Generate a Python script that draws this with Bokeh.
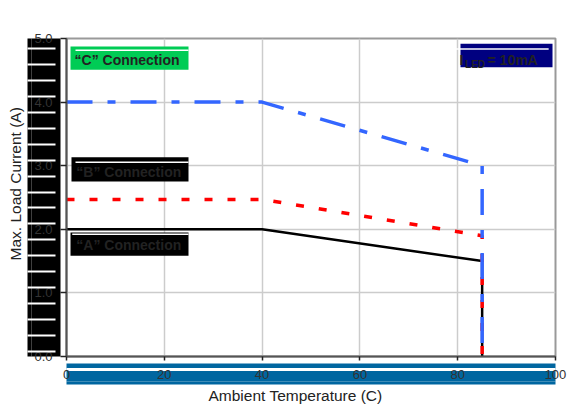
from bokeh.plotting import figure
from bokeh.models import (BoxAnnotation, Label, FixedTicker, PrintfTickFormatter, Range1d,
                          LinearAxis, Title, CustomJSTickFormatter)
from bokeh.embed import file_html
from bokeh.resources import INLINE

# ---------------- data ----------------
temp_a = [0, 40, 85, 85]
curr_a = [2.0, 2.0, 1.5, 0.0]
temp_b = [0, 40, 85, 85]
curr_b = [2.47, 2.47, 1.9, 0.0]
temp_c = [0, 40, 85, 85]
curr_c = [4.0, 4.0, 3.0, 0.0]

x_ticks = [0, 20, 40, 60, 80, 100]
y_ticks = [0, 1, 2, 3, 4, 5]
y_stripes = [0.0, 0.25, 0.5, 0.75, 1.0, 1.25, 1.5, 1.75, 2.0, 2.25, 2.5,
             2.75, 3.0, 3.25, 3.5, 3.75, 4.0, 4.25, 4.5, 4.75]

x_title = "Ambient Temperature (C)"
y_title = "Max. Load Current (A)"
label_c = "\u201cC\u201d Connection"
label_b = "\u201cB\u201d Connection"
label_a = "\u201cA\u201d Connection"

FONT = "Liberation Sans"
BAND = "#0066A0"
STRIPE_SHIFT = 0.085

p = figure(width=567, height=409, x_range=Range1d(0, 100), y_range=Range1d(0, 5),
           output_backend="svg", toolbar_location=None,
           min_border_left=66, min_border_right=12, min_border_top=38, min_border_bottom=53)

p.background_fill_color = "white"
p.border_fill_color = "white"
p.outline_line_color = "#999999"
p.outline_line_width = 2
p.grid.grid_line_color = "#cccccc"
p.grid.grid_line_width = 1.5


def set_bg(ax, color):
    try:
        ax.background_fill_color = color
        ax.background_fill_alpha = 1.0
    except AttributeError:
        pass


def blank():
    return CustomJSTickFormatter(code="return ''")


def style_labels(ax):
    ax.major_label_text_font = FONT
    ax.major_label_text_font_size = "13px"
    ax.major_label_text_color = "#333333"


def spacer(size, color=None):
    ax = LinearAxis(ticker=FixedTicker(ticks=[50]), formatter=blank(), axis_line_color=None,
                    major_tick_line_color=None, minor_tick_line_color=None,
                    major_tick_out=size, major_tick_in=0, major_label_standoff=0)
    if color is not None:
        set_bg(ax, color)
    return ax


# ---- y axes (frame outward) ----
y1 = p.yaxis[0]
y1.ticker = FixedTicker(ticks=y_ticks)
y1.formatter = blank()
y1.axis_line_color = "#555555"
y1.axis_line_width = 2
y1.major_tick_out = 6
y1.major_tick_in = 0
y1.major_tick_line_color = "#222222"
y1.major_tick_line_width = 1.5
y1.minor_tick_line_color = None
y1.major_label_standoff = 0

y2 = LinearAxis(ticker=FixedTicker(ticks=y_ticks),
                formatter=PrintfTickFormatter(format="%.1f"),
                axis_line_color=None, major_tick_line_color=None,
                minor_tick_line_color=None,
                major_tick_out=0, major_tick_in=0, major_label_standoff=8)
style_labels(y2)
set_bg(y2, "black")
p.add_layout(y2, "left")

stripe_ticks = [v + STRIPE_SHIFT for v in y_stripes]
y3 = LinearAxis(ticker=FixedTicker(ticks=[], minor_ticks=stripe_ticks),
                formatter=blank(), axis_line_color=None, major_tick_line_color=None,
                major_tick_out=0, major_tick_in=0, major_label_standoff=0,
                minor_tick_line_color="white", minor_tick_line_width=2,
                minor_tick_out=4, minor_tick_in=24)
set_bg(y3, "black")
p.add_layout(y3, "left")

p.add_layout(Title(text=y_title, align="left", offset=96, standoff=8,
                   text_font=FONT, text_font_size="15.5px", text_font_style="normal",
                   text_color="#222222"), "left")

# ---- x axes (frame outward) ----
x1 = p.xaxis[0]
x1.ticker = FixedTicker(ticks=x_ticks)
x1.formatter = blank()
x1.axis_line_color = "#555555"
x1.axis_line_width = 2
x1.major_tick_out = 4
x1.major_tick_in = 0
x1.major_tick_line_color = "#222222"
x1.major_tick_line_width = 1.5
x1.minor_tick_line_color = None
x1.major_label_standoff = 0

p.add_layout(spacer(3), "below")
p.add_layout(spacer(6, BAND), "below")

x3 = LinearAxis(ticker=FixedTicker(ticks=x_ticks), axis_line_color="white", axis_line_width=3,
                major_tick_line_color=None, minor_tick_line_color=None,
                major_tick_out=0, major_tick_in=0, major_label_standoff=0)
style_labels(x3)
set_bg(x3, BAND)
p.add_layout(x3, "below")

p.add_layout(spacer(3, BAND), "below")

p.add_layout(Title(text=x_title, align="left", offset=142, standoff=0,
                   text_font=FONT, text_font_size="15.5px", text_font_style="normal",
                   text_color="#222222"), "below")

# ---------------- series ----------------
p.line(temp_a, curr_a, line_color="black", line_width=2.5)
p.line(temp_b, curr_b, line_color="#FF0000", line_width=3.5, line_dash="8 15")
p.line(temp_c, curr_c, line_color="#3366FF", line_width=3.5, line_dash="26 15 8 15")


# ---------------- text boxes ----------------
def box(l, r, b, t, color):
    p.add_layout(BoxAnnotation(left=l, right=r, bottom=b, top=t,
                               fill_color=color, fill_alpha=1, line_color=None))


def txt(x, y, s, size="14px", style="bold", color="#222222"):
    p.add_layout(Label(x=x, y=y, text=s, text_font=FONT, text_font_size=size,
                       text_font_style=style, text_color=color,
                       text_align="left", text_baseline="alphabetic"))


box(0.82, 24.95, 4.508, 4.874, "#00CC55")
box(1.84, 24.95, 4.803, 4.827, "white")
txt(1.64, 4.665, label_c)

box(1.02, 24.95, 2.752, 3.134, "black")
box(1.84, 24.95, 3.042, 3.066, "white")
txt(2.0, 2.898, label_b)

box(0.82, 24.95, 1.583, 1.950, "black")
box(1.17, 24.95, 1.910, 1.934, "white")
txt(2.0, 1.750, label_a)

box(80.57, 99.39, 4.549, 4.917, "#000080")
box(78.5, 98.6, 4.822, 4.848, "white")
txt(80.37, 4.662, "I")
txt(81.5, 4.591, "LED", size="10px")
txt(86.1, 4.662, "= 10mA")

open("out.html", "w").write(file_html(p, INLINE))
